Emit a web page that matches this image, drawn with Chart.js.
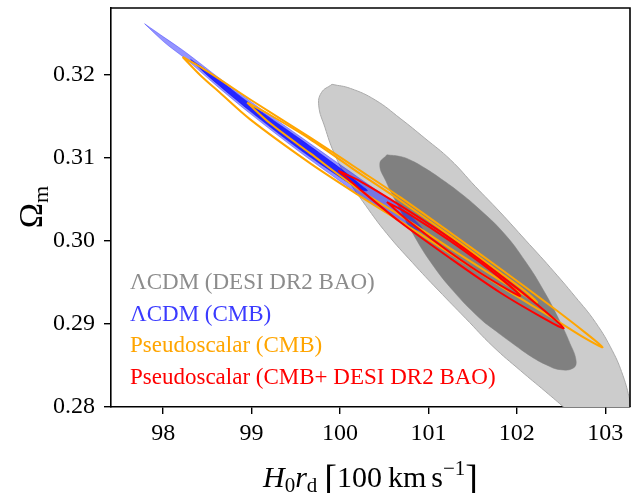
<!DOCTYPE html>
<html>
<head>
<meta charset="utf-8">
<script src="https://cdn.jsdelivr.net/npm/chart.js@4.4.1/dist/chart.umd.min.js"></script>
<style>
  html, body { margin: 0; padding: 0; background: #fff; }
</style>
</head>
<body>
<canvas id="contours" width="631" height="493"></canvas>
<script>
// tick values
const xTicks = [98, 99, 100, 101, 102, 103];
const yTicks = [0.28, 0.29, 0.30, 0.31, 0.32];

// contour outlines (H0 rd, Omega_m), walked round each shape
const baoOuterX = [99.91, 100.12, 100.40, 100.68, 100.96, 101.25, 101.53, 101.81, 102.10, 102.38, 102.66, 102.89, 103.08, 103.20, 103.28, 103.35, 103.37, 103.31, 103.17, 103.00, 102.77, 102.55, 102.32, 102.04, 101.73, 101.42, 101.11, 100.82, 100.53, 100.29, 100.08, 99.93, 99.83, 99.76, 99.79];
const baoOuterY = [0.3189, 0.3184, 0.3170, 0.3148, 0.3124, 0.3098, 0.3066, 0.3035, 0.3001, 0.2968, 0.2933, 0.2902, 0.2868, 0.2838, 0.2808, 0.2778, 0.2760, 0.2750, 0.2748, 0.2760, 0.2777, 0.2798, 0.2819, 0.2844, 0.2873, 0.2907, 0.2941, 0.2974, 0.3009, 0.3043, 0.3076, 0.3107, 0.3137, 0.3163, 0.3179];

const baoInnerX = [100.53, 100.68, 100.79, 100.96, 101.17, 101.36, 101.55, 101.85, 102.10, 102.30, 102.47, 102.60, 102.67, 102.64, 102.49, 102.33, 102.16, 101.96, 101.77, 101.57, 101.28, 101.03, 100.83, 100.66, 100.52, 100.45];
const baoInnerY = [0.3104, 0.3102, 0.3098, 0.3088, 0.3073, 0.3058, 0.3041, 0.3010, 0.2975, 0.2941, 0.2907, 0.2877, 0.2856, 0.2847, 0.2845, 0.2851, 0.2861, 0.2876, 0.2891, 0.2908, 0.2940, 0.2974, 0.3008, 0.3042, 0.3072, 0.3093];

const cmbOuterX = [97.79, 98.02, 98.25, 98.64, 98.98, 99.55, 100.23, 100.68, 100.85, 100.94, 100.85, 100.68, 100.23, 99.55, 98.98, 98.64, 98.25, 98.02];
const cmbOuterY = [0.3262, 0.3245, 0.3228, 0.3196, 0.3169, 0.3126, 0.3075, 0.3041, 0.3025, 0.3013, 0.3014, 0.3024, 0.3055, 0.3107, 0.3154, 0.3184, 0.3220, 0.3239];

const cmbInnerX = [98.31, 98.53, 98.98, 99.55, 100.00, 100.23, 100.31, 100.23, 100.00, 99.55, 98.98, 98.53];
const cmbInnerY = [0.3219, 0.3203, 0.3166, 0.3123, 0.3088, 0.3068, 0.3061, 0.3062, 0.3077, 0.3110, 0.3157, 0.3197];

const psOuterX = [98.22, 98.42, 98.64, 98.98, 99.66, 100.23, 100.68, 101.25, 101.81, 102.38, 102.77, 102.97, 102.77, 102.38, 101.81, 101.25, 100.68, 100.23, 99.66, 98.98, 98.64, 98.42];
const psOuterY = [0.3222, 0.3210, 0.3195, 0.3171, 0.3125, 0.3085, 0.3053, 0.3010, 0.2967, 0.2922, 0.2890, 0.2872, 0.2883, 0.2909, 0.2946, 0.2985, 0.3024, 0.3054, 0.3094, 0.3147, 0.3179, 0.3200];

const psInnerX = [98.95, 99.21, 99.66, 100.23, 100.68, 101.25, 101.81, 102.10, 102.23, 102.10, 101.81, 101.25, 100.68, 100.23, 99.66, 99.21];
const psInnerY = [0.3167, 0.3152, 0.3123, 0.3081, 0.3049, 0.3006, 0.2962, 0.2939, 0.2926, 0.2934, 0.2953, 0.2991, 0.3031, 0.3061, 0.3106, 0.3142];

const psBaoOuterX = [99.98, 100.23, 100.68, 101.25, 101.81, 102.27, 102.53, 102.27, 101.81, 101.25, 100.68, 100.23];
const psBaoOuterY = [0.3085, 0.3072, 0.3043, 0.3003, 0.2959, 0.2920, 0.2895, 0.2909, 0.2938, 0.2979, 0.3023, 0.3062];

const psBaoInnerX = [100.53, 100.79, 101.25, 101.70, 102.04, 101.70, 101.25, 100.79];
const psBaoInnerY = [0.3047, 0.3032, 0.3000, 0.2965, 0.2934, 0.2954, 0.2986, 0.3023];

const legendLabels = ["ΛCDM (DESI DR2 BAO)", "ΛCDM (CMB)", "Pseudoscalar (CMB)", "Pseudoscalar (CMB+ DESI DR2 BAO)"];
const legendColors = ["#8c8c8c", "#3b3bff", "#ffa500", "#ff0000"];

const SERIF = '"Liberation Serif", "DejaVu Serif", serif';

function closed(xs, ys) {
  const pts = xs.map((x, i) => ({ x: x, y: ys[i] }));
  pts.push(pts[0]);
  return pts;
}

function contour(xs, ys, line, fill, width, tension) {
  return {
    data: closed(xs, ys),
    showLine: true,
    borderColor: line,
    backgroundColor: fill || "transparent",
    borderWidth: width,
    fill: fill ? "shape" : false,
    pointRadius: 0,
    tension: tension || 0.3,
    clip: 0,
  };
}

// draw a row of text pieces with their own fonts and vertical shifts, centred on cx
function drawRuns(ctx, runs, cx, baseY) {
  let total = 0;
  runs.forEach((r) => {
    ctx.font = r.font;
    total += ctx.measureText(r.t).width + (r.gap || 0);
  });
  let x = cx - total / 2;
  runs.forEach((r) => {
    ctx.font = r.font;
    ctx.fillText(r.t, x, baseY + (r.dy || 0));
    x += ctx.measureText(r.t).width + (r.gap || 0);
  });
}

const overlay = {
  id: "overlay",
  afterDatasetsDraw(chart) {
    const ctx = chart.ctx;
    const a = chart.chartArea;
    ctx.save();
    ctx.strokeStyle = "#000";
    ctx.lineWidth = 1.6;
    ctx.beginPath();
    ctx.moveTo(a.left, a.top);
    ctx.lineTo(a.right, a.top);
    ctx.lineTo(a.right, a.bottom);
    ctx.stroke();

    ctx.font = "23px " + SERIF;
    ctx.textBaseline = "alphabetic";
    ctx.textAlign = "left";
    legendLabels.forEach((t, i) => {
      ctx.fillStyle = legendColors[i];
      ctx.fillText(t, 130, 289 + i * 31.7);
    });
    ctx.restore();
  },
  afterDraw(chart) {
    const ctx = chart.ctx;
    const a = chart.chartArea;
    ctx.save();
    ctx.fillStyle = "#000";
    ctx.textAlign = "left";
    ctx.textBaseline = "alphabetic";
    const big = "30px " + SERIF;
    const small = "21px " + SERIF;
    drawRuns(ctx, [
      { t: "H", font: "italic " + big },
      { t: "0", font: small, dy: 5 },
      { t: "r", font: "italic " + big },
      { t: "d", font: small, dy: 5, gap: 7 },
      { t: "[", font: "38px " + SERIF, dy: 4 },
      { t: "100", font: big, gap: 6 },
      { t: "km", font: big, gap: 5 },
      { t: "s", font: big },
      { t: "\u22121", font: small, dy: -12 },
      { t: "]", font: "38px " + SERIF, dy: 4 },
    ], (a.left + a.right) / 2, 487);

    ctx.translate(42, 207);
    ctx.rotate(-Math.PI / 2);
    drawRuns(ctx, [
      { t: "\u03A9", font: "34px " + SERIF },
      { t: "m", font: "22px " + SERIF, dy: 6 },
    ], 0, 0);
    ctx.restore();
  },
};

const tickFont = { family: SERIF, size: 24 };

new Chart(document.getElementById("contours"), {
  type: "scatter",
  data: {
    datasets: [
      contour(psBaoInnerX, psBaoInnerY, "#ff0000", null, 2),
      contour(psBaoOuterX, psBaoOuterY, "#ff0000", null, 2),
      contour(psInnerX, psInnerY, "#ffa500", null, 2),
      contour(psOuterX, psOuterY, "#ffa500", null, 2),
      contour(cmbInnerX, cmbInnerY, "rgba(0,0,255,0.6)", "rgba(0,0,255,0.75)", 0.8),
      contour(cmbOuterX, cmbOuterY, "rgba(40,40,255,0.5)", "rgba(0,0,255,0.42)", 0.8),
      contour(baoInnerX, baoInnerY, "#808080", "#808080", 0.5, 0.45),
      contour(baoOuterX, baoOuterY, "#aaaaaa", "#cccccc", 1, 0.45),
    ],
  },
  options: {
    responsive: false,
    animation: false,
    layout: { padding: { top: 8, right: 1, left: 0, bottom: 0 } },
    elements: { line: { capBezierPoints: false } },
    plugins: {
      legend: { display: false },
      tooltip: { enabled: false },
    },
    scales: {
      x: {
        type: "linear",
        min: 97.41,
        max: 103.28,
        afterBuildTicks: (s) => { s.ticks = xTicks.map((v) => ({ value: v })); },
        afterFit: (s) => { s.height = 86; s.paddingLeft = 0; s.paddingRight = 0; },
        ticks: { font: tickFont, color: "#000", padding: 5, callback: (v) => String(v) },
        grid: { drawOnChartArea: false, tickLength: 7, color: "#000", lineWidth: 1.4 },
        border: { color: "#000", width: 1.6 },
      },
      y: {
        type: "linear",
        min: 0.28,
        max: 0.3281,
        afterBuildTicks: (s) => { s.ticks = yTicks.map((v) => ({ value: v })); },
        afterFit: (s) => { s.width = 111; s.paddingTop = 0; s.paddingBottom = 0; },
        ticks: { font: tickFont, color: "#000", padding: 9, callback: (v) => v.toFixed(2) },
        grid: { drawOnChartArea: false, tickLength: 7, color: "#000", lineWidth: 1.4 },
        border: { color: "#000", width: 1.6 },
      },
    },
  },
  plugins: [overlay],
});
</script>
</body>
</html>
